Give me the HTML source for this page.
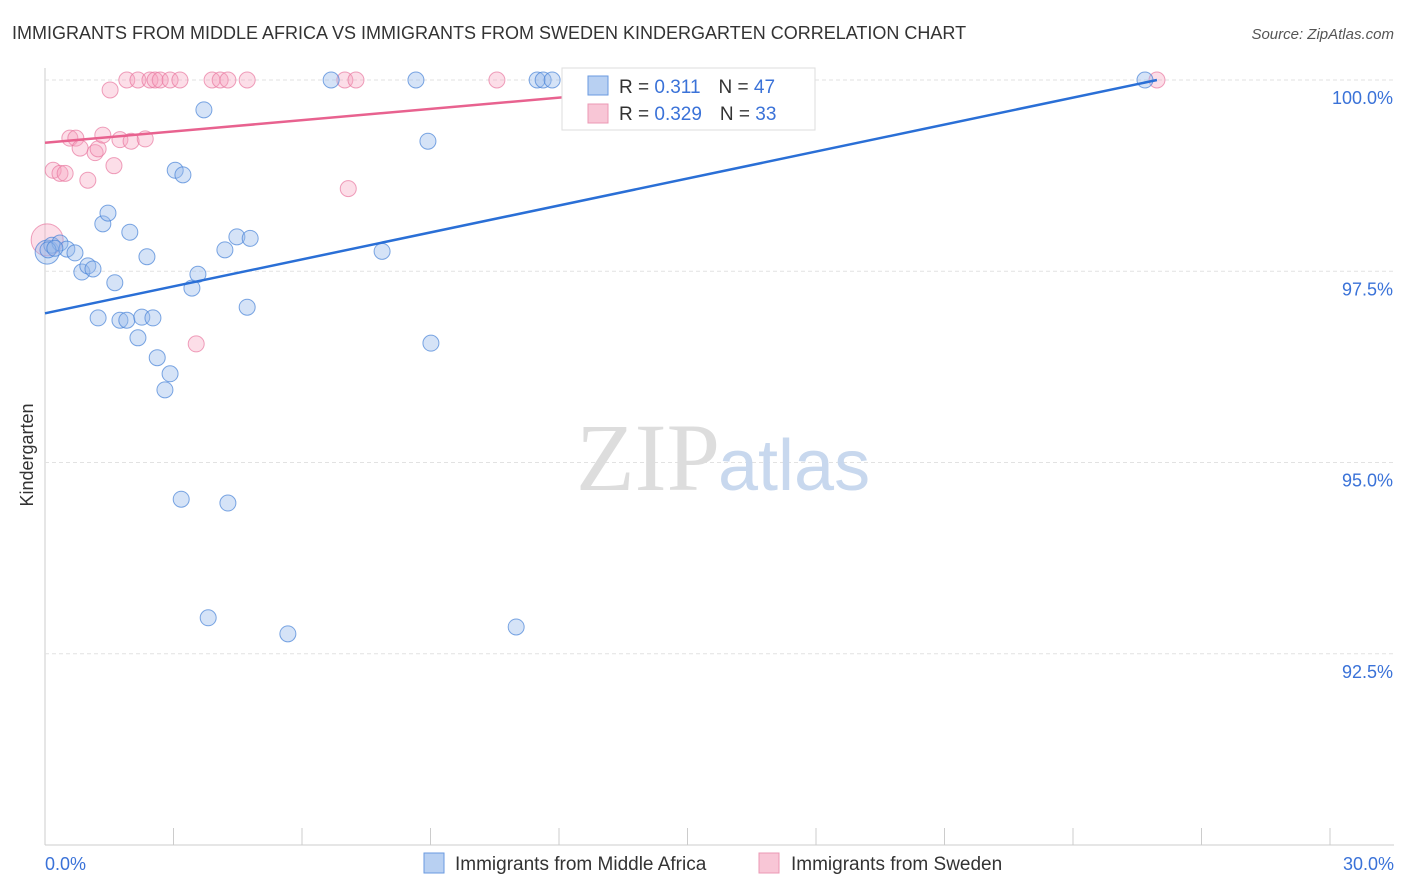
<!DOCTYPE html>
<html><head><meta charset="utf-8">
<style>
body{margin:0;background:#fff;font-family:"Liberation Sans",sans-serif;}
#c{position:absolute;left:0;top:0;width:1406px;height:892px;}
</style></head>
<body>
<svg id="c" width="1406" height="892">
<text x="12" y="39" font-size="18" fill="#333">IMMIGRANTS FROM MIDDLE AFRICA VS IMMIGRANTS FROM SWEDEN KINDERGARTEN CORRELATION CHART</text>
<text x="1394" y="39" font-size="15" fill="#555" font-style="italic" text-anchor="end">Source: ZipAtlas.com</text>
<g id="grid"></g>
<text x="720" y="490" font-size="96" font-family="Liberation Serif,serif" fill="#ddd" text-anchor="end">ZIP</text>
<text x="718" y="490" font-size="72" fill="#c8d8ee">atlas</text>
<g id="pts"></g>
<g id="lines"></g>
<text x="33" y="455" font-size="18" fill="#333" transform="rotate(-90 33 455)" text-anchor="middle">Kindergarten</text>
<text x="45" y="870" font-size="18" fill="#3a72d8">0.0%</text>
<text x="1394" y="870" font-size="18" fill="#3a72d8" text-anchor="end">30.0%</text>
<g>
<rect x="562" y="68" width="253" height="62" fill="#fff" stroke="#ddd"/>
<rect x="588" y="76" width="20" height="19" fill="#b8d0f2" stroke="#6a9ae0"/>
<rect x="588" y="104" width="20" height="19" fill="#f8c6d6" stroke="#eb98b4"/>
<text x="619" y="93" font-size="19" fill="#333">R = <tspan fill="#3a72d8"> 0.311</tspan><tspan dx="18">N = </tspan><tspan fill="#3a72d8">47</tspan></text>
<text x="619" y="120" font-size="19" fill="#333">R = <tspan fill="#3a72d8">0.329</tspan><tspan dx="18">N = </tspan><tspan fill="#3a72d8">33</tspan></text>
</g>
<g>
<rect x="424" y="853" width="20" height="20" fill="#b8d0f2" stroke="#6a9ae0"/>
<text x="455" y="870" font-size="19" fill="#333">Immigrants from Middle Africa</text>
<rect x="759" y="853" width="20" height="20" fill="#f8c6d6" stroke="#eb98b4"/>
<text x="791" y="870" font-size="19" fill="#333">Immigrants from Sweden</text>
</g>
</svg>
<script>
const blueX=[0.05,0.16,0.35,0.51,0.70,0.86,1.00,1.12,1.24,1.35,1.47,1.63,1.75,1.91,1.98,2.17,2.26,2.38,2.52,2.62,2.80,2.92,3.04,3.22,3.18,3.43,3.57,3.71,3.81,4.20,4.27,4.48,4.72,4.79,5.67,6.68,7.87,8.66,8.94,9.01,11.00,11.49,11.63,11.84,25.68,0.07,0.23];
const blueY=[97.75,97.84,97.87,97.79,97.74,97.49,97.57,97.53,96.89,98.12,98.26,97.35,96.86,96.86,98.01,96.63,96.90,97.69,96.89,96.37,95.95,96.16,98.82,98.76,94.52,97.28,97.46,99.61,92.97,97.78,94.47,97.95,97.03,97.93,92.76,100,97.76,100,99.20,96.56,92.85,100,100,100,100,97.78,97.80];
const pinkX=[0.05,0.19,0.35,0.47,0.58,0.72,0.82,1.00,1.17,1.24,1.35,1.52,1.61,1.75,1.91,2.01,2.17,2.34,2.45,2.57,2.69,2.92,3.15,3.53,3.90,4.09,4.27,4.72,7.00,7.08,7.26,10.55,25.96];
const pinkY=[97.91,98.82,98.78,98.78,99.24,99.24,99.11,98.69,99.05,99.10,99.28,99.87,98.88,99.22,100,99.20,100,99.23,100,100,100,100,100,96.55,100,100,100,100,100,98.58,100,100,100];
const blueTrend=[96.95,100.0];
const pinkTrend=[99.18,100.0];
const trendX=[0,25.96];
const pinkTrendX=[0,16.7];
const yTicks=[100,97.5,95,92.5];
const yTickLabels=["100.0%","97.5%","95.0%","92.5%"];
const xTicks=[0,3,6,9,12,15,18,21,24,27,30];
const NS="http://www.w3.org/2000/svg";
const sx=v=>45+v*1285/30;
const sy=v=>80+(100-v)*76.5;
function mk(t,a,p){const e=document.createElementNS(NS,t);for(const k in a)e.setAttribute(k,a[k]);p.appendChild(e);return e;}
const g=document.getElementById('grid');
const ax=mk('line',{x1:45,y1:68,x2:45,y2:845,stroke:'#ccc'},g);


const bx=mk('line',{x1:45,y1:845,x2:1394,y2:845,stroke:'#ccc'},g);


yTicks.forEach((v,i)=>{
 const l=mk('line',{x1:45,x2:1394,y1:sy(v),y2:sy(v),stroke:'#e2e2e2','stroke-dasharray':'4,3'},g);
 
 
 const t=mk('text',{x:1393,y:sy(v)+24,'font-size':18,fill:'#3a72d8','text-anchor':'end'},g);
 t.textContent=yTickLabels[i];
 
 
});
xTicks.forEach(v=>{
 const l=mk('line',{x1:sx(v),x2:sx(v),y1:828,y2:845,stroke:'#ccc'},g);
 
 
});
const P=document.getElementById('pts');
pinkX.forEach((x,i)=>{
 const c=mk('circle',{cx:sx(x),cy:sy(pinkY[i]),r:i==0?16:8,fill:'rgba(245,160,190,0.35)',stroke:'rgba(232,120,160,0.7)','stroke-width':1},P);
 
 
});
blueX.forEach((x,i)=>{
 const c=mk('circle',{cx:sx(x),cy:sy(blueY[i]),r:i==0?12:8,fill:'rgba(150,185,235,0.4)',stroke:'rgba(70,130,215,0.7)','stroke-width':1},P);
 
 
});
const L=document.getElementById('lines');
const bl=mk('line',{x1:sx(trendX[0]),y1:sy(blueTrend[0]),x2:sx(trendX[1]),y2:sy(blueTrend[1]),stroke:'#2a6fd6','stroke-width':2.5},L);


const pl=mk('line',{x1:sx(pinkTrendX[0]),y1:sy(pinkTrend[0]),x2:sx(pinkTrendX[1]),y2:sy(pinkTrend[1]),stroke:'#e8628f','stroke-width':2.5},L);


</script>
</body></html>
